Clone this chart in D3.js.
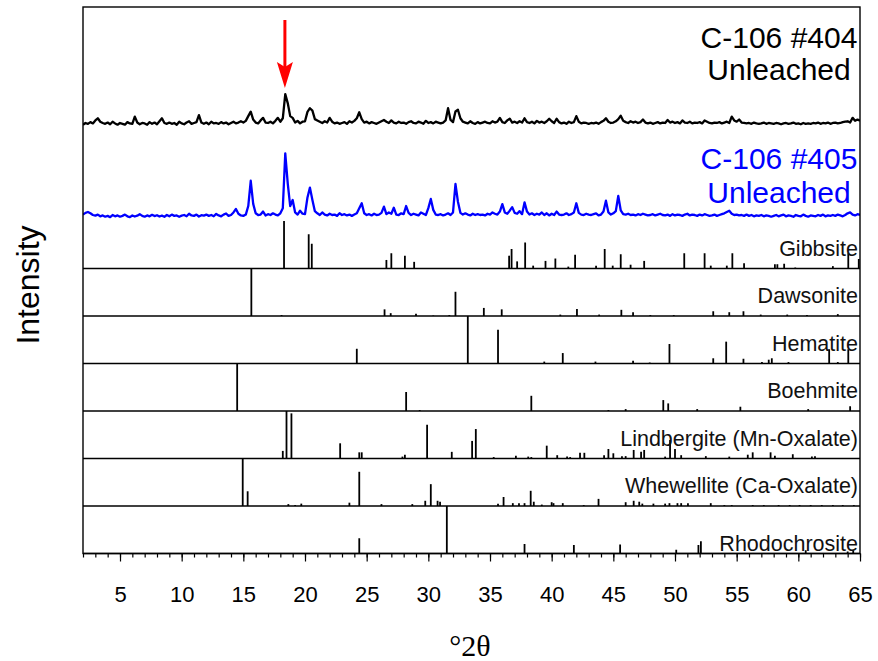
<!DOCTYPE html>
<html>
<head>
<meta charset="utf-8">
<script src="https://cdn.jsdelivr.net/npm/d3@7"></script>
<style>
  body { margin: 0; background: #fff; }
  text { font-family: "Liberation Sans", Arial, sans-serif; }
</style>
</head>
<body>
<svg id="chart" width="878" height="661"></svg>
<script>
// measured patterns, 2 to 65 deg 2theta in 0.2 deg steps
var scanStart = 2, scanStep = 0.2;

var c106_404 = [
  30,38,34,42,36, 50,60,44,38,34, 40,32,44,36,30, 38,34,30,42,36,
  34,68,40,32,38, 36,30,42,34,40, 32,46,60,38,34, 40,34,38,30,44,
  36,32,40,46,34, 38,42,75,40,34, 40,32,44,36,38, 34,42,36,40,32,
  38,44,36,40,46, 40,48,70,91,54, 40,36,50,62,40, 38,44,36,48,62,
  44,60,173,131,70, 62,40,48,36,44, 46,90,107,96,56, 50,44,38,46,40,
  62,44,36,40,34, 38,42,34,46,40, 48,60,88,56,40, 44,36,42,38,34,
  40,46,52,44,38, 50,40,36,44,38, 40,34,42,46,38, 36,44,40,34,48,
  38,42,36,44,40, 36,40,50,107,52, 42,92,100,60,44, 40,36,46,38,34,
  42,36,40,44,38, 36,46,40,44,62, 42,38,50,58,40, 44,38,46,40,60,
  42,38,44,36,48, 40,44,38,46,58, 46,38,58,42,36, 40,34,44,38,42,
  70,44,36,40,38, 34,38,36,40,34, 42,48,60,44,38, 40,46,56,72,48,
  42,38,46,40,44, 38,42,54,40,36, 40,34,38,42,36, 40,38,52,40,44,
  38,42,36,50,40, 38,44,36,40,38, 42,36,50,44,38, 36,40,38,42,36,
  40,44,38,68,50, 44,54,40,38,36, 38,34,40,36,34, 36,40,34,38,36,
  34,38,36,32,36, 38,34,36,40,34, 36,32,38,34,36, 34,38,36,40,34,
  38,36,40,34,38, 40,36,38,42,44, 46,40,62,48,54, 48
];

var c106_405 = [
  30,38,42,36,28, 25,30,22,26,20, 24,18,28,22,26, 20,24,30,22,18,
  26,21,25,32,24, 20,26,22,29,23, 27,21,25,20,28, 22,30,24,26,20,
  25,28,22,34,26, 24,30,21,27,25, 30,24,28,22,33, 26,22,30,35,24,
  28,40,56,34,26, 24,30,70,188,80, 36,28,30,44,26, 32,28,36,30,26,
  36,60,316,176,70, 98,40,30,48,34, 32,110,156,98,46, 36,28,40,30,26,
  34,28,30,24,36, 28,32,26,30,24, 30,36,60,83,36, 28,32,26,34,28,
  30,38,67,32,40, 34,62,30,28,36, 32,70,38,28,34, 30,26,40,34,28,
  60,103,52,30,28, 32,26,30,36,28, 40,173,90,38,30, 36,30,26,34,28,
  32,28,30,26,34, 30,40,34,30,44, 79,40,34,48,65, 38,34,46,32,87,
  44,30,36,28,34, 30,40,28,36,26, 34,28,44,30,28, 30,36,28,32,40,
  83,38,30,28,34, 30,28,32,36,26, 30,44,95,40,30, 36,46,117,50,32,
  30,34,28,30,26, 32,28,34,30,26, 28,32,26,30,34, 28,26,30,24,32,
  26,30,28,24,30, 34,26,30,28,24, 30,26,32,28,24, 26,30,24,28,32,
  36,42,48,34,28, 30,26,28,24,30, 24,28,22,26,24, 28,22,26,24,20,
  24,28,22,26,30, 22,26,24,20,28, 24,22,30,24,20, 26,24,22,28,24,
  30,22,26,24,28, 24,30,26,22,28, 36,40,30,26,32, 28
];
var offset404 = 420;

// reference patterns: [2theta, relative intensity]
var gibbsite = [[18.3,100],[20.3,72],[20.55,52],[26.6,18],[27.0,32],[28.1,27],[28.85,14],
  [36.55,27],[36.75,41],[37.2,15],[37.85,55],[38.5,6],[39.5,16],[40.3,21],[41.35,4],[41.9,29],
  [43.6,6],[44.3,41],[44.95,6],[45.6,30],[46.4,8],[47.5,16],[50.75,32],[52.4,32],[52.9,6],
  [54.2,6],[54.65,32],[55.6,11],[58.1,9],[58.3,9],[58.85,10],[59.75,2],[62.8,5],[64.05,32],[64.9,20]];
var dawsonite = [[15.65,100],[18.1,2],[26.45,14],[26.95,6],[29.0,5],[30.4,1],[31.7,2],[32.2,51],
  [34.5,17],[35.95,14],[40.7,3],[42.05,15],[43.85,3],[45.65,13],[46.6,8],[48.0,2],[49.9,2],
  [53.1,10],[54.4,8],[55.55,10],[56.95,3],[59.1,3],[60.7,2],[63.2,4]];
var hematite = [[24.2,31],[33.2,100],[35.65,71],[39.4,4],[40.9,22],[43.55,4],[46.6,6],[47.95,2],
  [49.55,41],[53.1,11],[54.15,46],[55.55,10],[57.05,3],[57.6,8],[57.85,11],[59.2,3],
  [62.5,30],[63.2,3],[64.05,30]];
var boehmite = [[14.5,100],[28.2,40],[29.3,2],[38.35,32],[44.6,2],[46.0,4],[49.05,23],[49.45,16],
  [51.8,4],[55.3,9],[60.8,4],[64.2,10]];
var lindbergite = [[18.2,16],[18.5,100],[18.9,95],[22.85,32],[24.4,13],[24.6,13],[27.9,4],[28.1,8],
  [29.9,71],[31.9,14],[33.55,37],[33.85,62],[35.3,3],[37.1,6],[38.1,4],[38.35,3],[39.6,27],
  [40.45,7],[41.25,4],[41.5,3],[42.3,12],[42.65,12],[44.25,7],[44.6,20],[45.0,11],[45.7,5],
  [46.0,5],[46.65,18],[47.25,14],[47.5,18],[49.2,4],[49.6,39],[50.0,20],[50.5,7],[52.5,5],
  [54.4,4],[55.9,8],[56.3,13],[57.75,13],[58.1,6],[59.55,9],[61.1,4],[61.35,5]];
var whewellite = [[14.95,100],[15.35,31],[18.65,4],[19.2,2],[19.7,5],[23.6,7],[24.4,72],[26.2,4],
  [28.7,4],[29.75,11],[30.2,46],[30.75,11],[30.95,9],[35.65,5],[36.1,19],[36.85,6],[37.35,6],
  [37.8,6],[38.3,32],[38.55,9],[39.2,3],[40.0,8],[40.15,6],[40.9,6],[42.6,2],[43.8,15],
  [46.0,8],[46.65,11],[47.1,9],[47.35,5],[48.25,5],[49.2,5],[49.55,6],[50.2,6],[50.5,6],
  [51.05,6],[52.9,6],[54.0,2],[54.6,2],[56.3,2],[57.2,2],[58.4,2],[59.3,2],[60.1,2],
  [61.0,2],[61.9,2],[62.8,2],[63.6,2],[64.5,2]];
var rhodochrosite = [[24.4,32],[31.5,100],[34.5,1],[37.8,20],[41.8,18],[45.55,19],[50.1,8],
  [51.9,18],[52.1,26],[60.6,7],[64.0,4],[64.45,7]];

var phaseNames = ["Gibbsite","Dawsonite","Hematite","Boehmite",
  "Lindbergite (Mn-Oxalate)","Whewellite (Ca-Oxalate)","Rhodochrosite"];
var phaseData = [gibbsite, dawsonite, hematite, boehmite, lindbergite, whewellite, rhodochrosite];

var majorTicks = [5,10,15,20,25,30,35,40,45,50,55,60,65];
var minorTicks = d3.range(2, 66, 1);

var svg = d3.select("#chart");
var plotLeft = 83, plotRight = 860, plotTop = 7, traceBottom = 221, panelH = 47.5;
var plotBottom = traceBottom + panelH * phaseNames.length;

var x = d3.scaleLinear().domain([2, 65]).range([plotLeft, plotRight]);
var yTrace = d3.scaleLinear().domain([0, 1000]).range([traceBottom, plotTop]);

svg.append("defs").append("clipPath").attr("id", "plotclip")
  .append("rect").attr("x", plotLeft).attr("y", plotTop)
  .attr("width", plotRight - plotLeft).attr("height", plotBottom - plotTop);

var plot = svg.append("g").attr("clip-path", "url(#plotclip)");

// diffraction traces
var line404 = d3.line()
  .x(function(d, i) { return x(scanStart + i * scanStep); })
  .y(function(d) { return yTrace(d + offset404); });
var line405 = d3.line()
  .x(function(d, i) { return x(scanStart + i * scanStep); })
  .y(function(d) { return yTrace(d); });

plot.append("path").datum(c106_404)
  .attr("d", line404).attr("fill", "none")
  .attr("stroke", "#000").attr("stroke-width", 2.3).attr("stroke-linejoin", "round");
plot.append("path").datum(c106_405)
  .attr("d", line405).attr("fill", "none")
  .attr("stroke", "#0000ff").attr("stroke-width", 2.3).attr("stroke-linejoin", "round");

// stick patterns
phaseData.forEach(function(pts, i) {
  var base = traceBottom + panelH * (i + 1);
  var yStick = d3.scaleLinear().domain([0, 100]).range([base, base - panelH]);
  var g = plot.append("g");
  g.selectAll("line")
    .data(pts)
    .enter()
    .append("line")
    .attr("x1", function(d) { return x(d[0]); })
    .attr("x2", function(d) { return x(d[0]); })
    .attr("y1", yStick(0))
    .attr("y2", function(d) { return yStick(d[1]); })
    .attr("stroke", "#000")
    .attr("stroke-width", 1.8);
  svg.append("line")
    .attr("x1", plotLeft).attr("x2", plotRight)
    .attr("y1", base).attr("y2", base)
    .attr("stroke", "#000").attr("stroke-width", 1.4);
  svg.append("text")
    .text(phaseNames[i])
    .attr("x", 858)
    .attr("y", i == phaseNames.length - 1 ? base - 2.5 : base - 13)
    .attr("text-anchor", "end")
    .attr("font-size", "21.5px")
    .attr("fill", "#111");
});

// frame
svg.append("rect")
  .attr("x", plotLeft).attr("y", plotTop)
  .attr("width", plotRight - plotLeft).attr("height", plotBottom - plotTop)
  .attr("fill", "none").attr("stroke", "#000").attr("stroke-width", 1.4);

// x axis
var xMinor = svg.append("g").attr("transform", "translate(0," + plotBottom + ")")
  .call(d3.axisBottom(x).tickValues(minorTicks).tickSize(4).tickFormat(""));
xMinor.select(".domain").remove();
xMinor.selectAll("line").attr("stroke-width", 1.2);
var xMajor = svg.append("g").attr("transform", "translate(0," + plotBottom + ")")
  .call(d3.axisBottom(x).tickValues(majorTicks).tickSize(8).tickPadding(25));
xMajor.select(".domain").remove();
xMajor.selectAll("line").attr("stroke-width", 1.2);
xMajor.selectAll("text")
  .attr("font-size", "22px")
  .attr("font-family", "'Liberation Sans', Arial, sans-serif")
  .attr("fill", "#000");

// sample labels
svg.append("text").text("C-106 #404").attr("x", 779).attr("y", 48)
  .attr("text-anchor", "middle").attr("font-size", "30px").attr("fill", "#000");
svg.append("text").text("Unleached").attr("x", 779).attr("y", 80)
  .attr("text-anchor", "middle").attr("font-size", "30px").attr("fill", "#000");
svg.append("text").text("C-106 #405").attr("x", 779).attr("y", 169)
  .attr("text-anchor", "middle").attr("font-size", "30px").attr("fill", "#0000ff");
svg.append("text").text("Unleached").attr("x", 779).attr("y", 203)
  .attr("text-anchor", "middle").attr("font-size", "30px").attr("fill", "#0000ff");

// arrow over the gibbsite peak
var arrowX = x(18.37);
svg.append("line")
  .attr("x1", arrowX).attr("x2", arrowX).attr("y1", 20).attr("y2", 68)
  .attr("stroke", "#ff0000").attr("stroke-width", 3);
svg.append("path")
  .attr("d", "M" + (arrowX - 8) + ",62 L" + arrowX + ",88 L" + (arrowX + 8) + ",62 L" + arrowX + ",67 Z")
  .attr("fill", "#ff0000");

// axis titles
svg.append("text").text("Intensity")
  .attr("transform", "translate(39,285) rotate(-90)")
  .attr("text-anchor", "middle")
  .attr("font-size", "32px")
  .attr("fill", "#000");
svg.append("text").text("°2θ")
  .attr("x", 470).attr("y", 656)
  .attr("text-anchor", "middle")
  .attr("font-size", "30px")
  .style("font-family", "'Liberation Serif', 'Times New Roman', serif")
  .attr("fill", "#000");
</script>
</body>
</html>
